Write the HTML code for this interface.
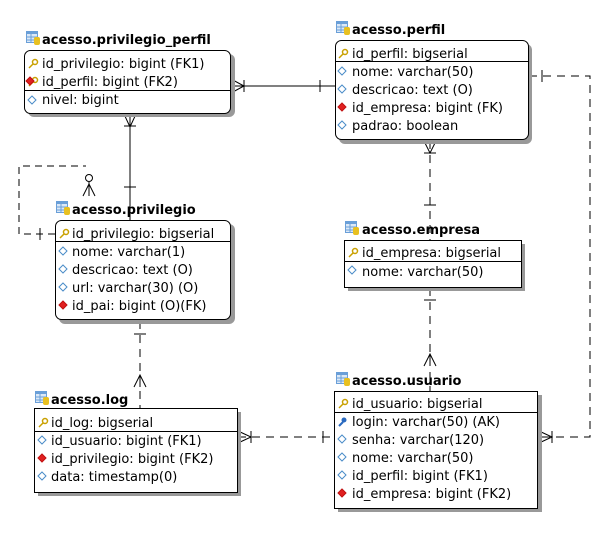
<!DOCTYPE html>
<html><head><meta charset="utf-8"><style>
html,body{margin:0;padding:0;background:#fff;}
svg{display:block}
text{font-family:"DejaVu Sans","Liberation Sans",sans-serif;font-size:13px;fill:#000}
.t{font-weight:bold;font-size:13px}
</style></head><body>
<svg width="612" height="534" viewBox="0 0 612 534" xmlns="http://www.w3.org/2000/svg">
<defs>
<g id="tbl"><rect x="0" y="0" width="12" height="12" fill="#6a9fd8"/><rect x="1" y="3" width="10" height="8" fill="#dce9f7"/><line x1="1" y1="6" x2="11" y2="6" stroke="#6a9fd8"/><line x1="1" y1="9" x2="11" y2="9" stroke="#6a9fd8"/><line x1="5" y1="3" x2="5" y2="11" stroke="#6a9fd8"/><rect x="8" y="6" width="6" height="8" rx="2" fill="#e8c020"/></g>
<g id="key"><circle cx="7" cy="3" r="2.5" fill="none" stroke="#c9a000" stroke-width="1.5"/><line x1="5" y1="5" x2="1" y2="9" stroke="#c9a000" stroke-width="1.5"/></g>
<g id="bkey"><circle cx="6" cy="3" r="2.5" fill="#2a6ac0"/><line x1="5" y1="5" x2="1" y2="9" stroke="#2a6ac0" stroke-width="2"/></g>
<g id="dia"><path d="M0 4 L4 0 L8 4 L4 8Z" fill="#fff" stroke="#4a8cc8"/></g>
<g id="rdia"><path d="M0 4 L4 0 L8 4 L4 8Z" fill="#e02020" stroke="#c01010"/></g>
</defs>

<g stroke="#000" fill="none" stroke-width="1">
<line x1="231" y1="86" x2="335" y2="86"/>
<path d="M231 79 L244 86 L231 93"/><line x1="244" y1="80" x2="244" y2="92"/>
<line x1="320" y1="80" x2="320" y2="92"/>
<line x1="130" y1="114" x2="130" y2="221"/>
<path d="M124 114 L130 127 L136 114"/><line x1="124" y1="126" x2="136" y2="126"/>
<line x1="124" y1="187" x2="136" y2="187"/>
<path d="M55 234 L19 234 L19 166 L86 166" stroke-dasharray="7,5"/>
<line x1="40" y1="228" x2="40" y2="240"/>
<circle cx="89" cy="178" r="3.5"/>
<path d="M83 196 L89 184 L95 196"/><line x1="89" y1="182" x2="89" y2="196"/>
<line x1="430" y1="141" x2="430" y2="240" stroke-dasharray="8,6"/>
<path d="M424 141 L430 153 L436 141"/><line x1="424" y1="153" x2="436" y2="153"/>
<line x1="424" y1="205" x2="436" y2="205"/>
<line x1="430" y1="288" x2="430" y2="391" stroke-dasharray="8,6"/>
<line x1="424" y1="300" x2="436" y2="300"/>
<path d="M424 366 L430 354 L436 366"/><line x1="430" y1="354" x2="430" y2="366"/>
<line x1="140" y1="321" x2="140" y2="408" stroke-dasharray="8,6"/>
<line x1="134" y1="334" x2="146" y2="334"/>
<path d="M134 387 L140 375 L146 387"/><line x1="140" y1="375" x2="140" y2="387"/>
<line x1="238" y1="437" x2="334" y2="437" stroke-dasharray="8,6"/>
<path d="M238 431 L251 437 L238 443"/><line x1="251" y1="431" x2="251" y2="443"/>
<line x1="323" y1="431" x2="323" y2="443"/>
<path d="M529 76 L590 76 L590 437 L539 437" stroke-dasharray="8,6"/>
<line x1="542" y1="70" x2="542" y2="82"/>
<path d="M539 431 L552 437 L539 443"/><line x1="552" y1="431" x2="552" y2="443"/>
</g>

<use href="#tbl" x="26" y="31"/><text class="t" x="42" y="44">acesso.privilegio_perfil</text>
<rect x="28" y="54" width="207" height="63" rx="6" fill="#999"/>
<rect x="24.5" y="50.5" width="206" height="63" rx="6" fill="#fff" stroke="#000"/>
<line x1="25" y1="90.5" x2="230" y2="90.5" stroke="#000"/>
<use href="#key" x="28" y="59"/><text x="42" y="68">id_privilegio: bigint (FK1)</text>
<use href="#key" x="28" y="77"/><use href="#rdia" x="26" y="77"/><text x="42" y="86">id_perfil: bigint (FK2)</text>
<use href="#dia" x="28" y="96"/><text x="42" y="104">nivel: bigint</text>

<use href="#tbl" x="56" y="201"/><text class="t" x="72" y="214">acesso.privilegio</text>
<rect x="59" y="224" width="176" height="100" rx="6" fill="#999"/>
<rect x="55.5" y="220.5" width="175" height="99" rx="6" fill="#fff" stroke="#000"/>
<line x1="56" y1="241.5" x2="230" y2="241.5" stroke="#000"/>
<use href="#key" x="59" y="229"/><text x="72" y="238">id_privilegio: bigserial</text>
<use href="#dia" x="59" y="247"/><text x="72" y="256">nome: varchar(1)</text>
<use href="#dia" x="59" y="265"/><text x="72" y="274">descricao: text (O)</text>
<use href="#dia" x="59" y="283"/><text x="72" y="292">url: varchar(30) (O)</text>
<use href="#rdia" x="59" y="301"/><text x="72" y="310">id_pai: bigint (O)(FK)</text>

<use href="#tbl" x="336" y="21"/><text class="t" x="352" y="34">acesso.perfil</text>
<rect x="339" y="44" width="193" height="100" rx="6" fill="#999"/>
<rect x="335.5" y="40.5" width="193" height="99" rx="6" fill="#fff" stroke="#000"/>
<line x1="336" y1="61.5" x2="528" y2="61.5" stroke="#000"/>
<use href="#key" x="338" y="49"/><text x="352" y="58">id_perfil: bigserial</text>
<use href="#dia" x="338" y="67"/><text x="352" y="76">nome: varchar(50)</text>
<use href="#dia" x="338" y="85"/><text x="352" y="94">descricao: text (O)</text>
<use href="#rdia" x="338" y="103"/><text x="352" y="112">id_empresa: bigint (FK)</text>
<use href="#dia" x="338" y="121"/><text x="352" y="130">padrao: boolean</text>

<use href="#tbl" x="345" y="221"/><text class="t" x="362" y="234">acesso.empresa</text>
<rect x="348" y="244" width="177" height="47" fill="#999"/>
<rect x="344.5" y="240.5" width="177" height="47" fill="#fff" stroke="#000"/>
<line x1="345" y1="261.5" x2="521" y2="261.5" stroke="#000"/>
<use href="#key" x="348" y="248"/><text x="362" y="257">id_empresa: bigserial</text>
<use href="#dia" x="348" y="266"/><text x="362" y="276">nome: varchar(50)</text>

<use href="#tbl" x="35" y="391"/><text class="t" x="51" y="404">acesso.log</text>
<rect x="38" y="412" width="203" height="84" fill="#999"/>
<rect x="34.5" y="408.5" width="203" height="84" fill="#fff" stroke="#000"/>
<line x1="35" y1="431.5" x2="237" y2="431.5" stroke="#000"/>
<use href="#key" x="38" y="418"/><text x="51" y="427">id_log: bigserial</text>
<use href="#dia" x="38" y="436"/><text x="51" y="445">id_usuario: bigint (FK1)</text>
<use href="#rdia" x="38" y="454"/><text x="51" y="463">id_privilegio: bigint (FK2)</text>
<use href="#dia" x="38" y="472"/><text x="51" y="481">data: timestamp(0)</text>

<use href="#tbl" x="336" y="372"/><text class="t" x="352" y="385">acesso.usuario</text>
<rect x="338" y="395" width="204" height="117" fill="#999"/>
<rect x="334.5" y="391.5" width="203" height="117" fill="#fff" stroke="#000"/>
<line x1="335" y1="412.5" x2="537" y2="412.5" stroke="#000"/>
<use href="#key" x="338" y="399"/><text x="352" y="408">id_usuario: bigserial</text>
<use href="#bkey" x="338" y="417"/><text x="352" y="426">login: varchar(50) (AK)</text>
<use href="#dia" x="338" y="435"/><text x="352" y="444">senha: varchar(120)</text>
<use href="#dia" x="338" y="453"/><text x="352" y="462">nome: varchar(50)</text>
<use href="#dia" x="338" y="471"/><text x="352" y="480">id_perfil: bigint (FK1)</text>
<use href="#rdia" x="338" y="489"/><text x="352" y="498">id_empresa: bigint (FK2)</text>
</svg>
</body></html>
